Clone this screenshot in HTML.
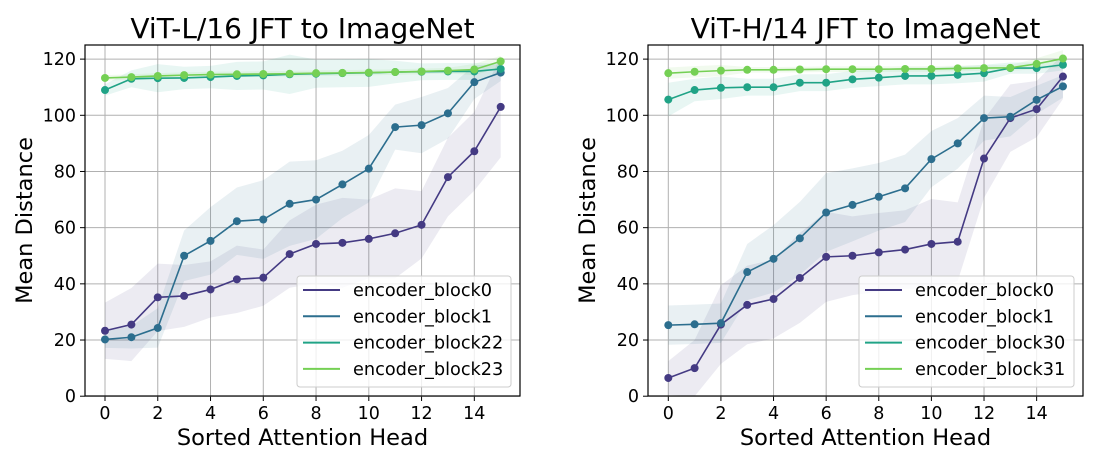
<!DOCTYPE html>
<html><head><meta charset="utf-8">
<style>
html,body{margin:0;padding:0;background:#fff;}
svg{display:block;font-family:"DejaVu Sans","Liberation Sans",sans-serif;}
</style></head>
<body>
<svg id="chart" width="1107" height="462" viewBox="0 0 1107 462" xmlns="http://www.w3.org/2000/svg"></svg>
<script>
const heads = [0,1,2,3,4,5,6,7,8,9,10,11,12,13,14,15];
const xTicks = [0,2,4,6,8,10,12,14];
const yTicks = [0,20,40,60,80,100,120];
const colors = ["#443a83","#2c6e8e","#20a386","#75d054"];

const leftTitle = "ViT-L/16 JFT to ImageNet";
const leftNames = ["encoder_block0","encoder_block1","encoder_block22","encoder_block23"];
const leftB0 = [23.3,25.5,35.2,35.7,38,41.6,42.2,50.6,54.2,54.6,56,58,61,78,87.2,103];
const leftB1 = [20.2,21,24.3,50,55.3,62.3,62.9,68.5,70,75.4,81,95.8,96.5,100.7,111.8,115.2];
const leftB22 = [109,113,113.2,113.3,113.6,114,114.2,114.6,114.8,115,115.1,115.4,115.5,115.6,115.6,116.5];
const leftB23 = [113.3,113.6,114,114.3,114.5,114.6,114.7,114.8,115,115.1,115.2,115.4,115.6,115.9,116.3,119.2];
const leftSd0 = [10,13,12,11,10,12,10,12,14,16,14,16,12,14,14,18];
const leftSd1 = [3,4,7,9,12,12,14,15,14,12,12,8,10,9,6,3];
const leftSd22 = [2,3,5,4,4,5,5,7,5,5,5,4,3,3,3,2];
const leftSd23 = [1,1,1,1,1,1,1,1,1,1,1,1,1,1,2,2];

const rightTitle = "ViT-H/14 JFT to ImageNet";
const rightNames = ["encoder_block0","encoder_block1","encoder_block30","encoder_block31"];
const rightB0 = [6.5,10,25.5,32.5,34.6,42.1,49.6,50,51.2,52.2,54.2,55,84.6,99,102.2,113.8];
const rightB1 = [25.3,25.6,26,44.2,48.9,56.2,65.4,68.1,71,74,84.4,90,99,99.5,105.5,110.3];
const rightB30 = [105.6,109,109.8,110,110,111.6,111.6,112.8,113.4,114,114,114.4,115,116.8,116.8,118];
const rightB31 = [115,115.5,115.9,116.2,116.2,116.3,116.4,116.4,116.4,116.5,116.5,116.7,116.8,116.9,118.3,120.2];
const rightSd0 = [6,10,14,14,14,16,16,14,14,14,16,14,14,12,10,8];
const rightSd1 = [7,7,7,10,12,13,14,13,12,12,10,9,8,7,5,4];
const rightSd30 = [6,4,4,3,3,3,3,3,3,3,3,3,3,2,2,2];
const rightSd31 = [2,2,2,1,1,1,1,1,1,1,1,1,1,1,2,3];

const svg = document.getElementById('chart');
const NS = "http://www.w3.org/2000/svg";
function mk(tag, attrs, parent){
  const e = document.createElementNS(NS, tag);
  for (const k in attrs) e.setAttribute(k, attrs[k]);
  (parent||svg).appendChild(e);
  return e;
}

function panel(id, L, R, T, B, x0, xUnit, title, names, series, sds, legX){
  const g = mk('g', {});
  
  
  const y0 = 396.2, yUnit = 2.809;
  const X = v => x0 + v * xUnit;
  const Y = v => y0 - v * yUnit;
  xTicks.forEach(t => {
    const l = mk('line', {x1:X(t), x2:X(t), y1:T, y2:B, stroke:"#b0b0b0", "stroke-width":1}, g);
    
    
    mk('line', {x1:X(t), x2:X(t), y1:B, y2:B+5, stroke:"#000", "stroke-width":1}, g);
    const tx = mk('text', {x:X(t), y:B+23, "text-anchor":"middle", "font-size":17.5}, g);
    tx.textContent = t;
    
    
  });
  yTicks.forEach(t => {
    const l = mk('line', {x1:L, x2:R, y1:Y(t), y2:Y(t), stroke:"#b0b0b0", "stroke-width":1}, g);
    
    
    mk('line', {x1:L-5, x2:L, y1:Y(t), y2:Y(t), stroke:"#000", "stroke-width":1}, g);
    const tx = mk('text', {x:L-9, y:Y(t)+6, "text-anchor":"end", "font-size":17.5}, g);
    tx.textContent = t;
    
    
  });
  series.forEach((s, i) => {
    const sd = sds[i];
    let d = heads.map((h, j) => (j ? 'L' : 'M') + X(h) + ',' + Y(s[j] + sd[j])).join(' ');
    for (let j = heads.length - 1; j >= 0; j--) d += ' L' + X(heads[j]) + ',' + Y(Math.max(s[j] - sd[j], -1));
    const p = mk('path', {d: d + ' Z', fill: colors[i], "fill-opacity": 0.1, stroke: "none"}, g);
    
    
  });
  series.forEach((s, i) => {
    const pts = heads.map((h, j) => X(h) + ',' + Y(s[j])).join(' ');
    const pl = mk('polyline', {points: pts, fill: "none", stroke: colors[i], "stroke-width": 1.6}, g);
    
    
    heads.forEach((h, j) => {
      const c = mk('circle', {cx: X(h), cy: Y(s[j]), r: 4, fill: colors[i]}, g);
      
      
    });
  });
  const fr = mk('rect', {x:L, y:T, width:R-L, height:B-T, fill:"none", stroke:"#000", "stroke-width":1.2}, g);
  
  
  const tt = mk('text', {x:(L+R)/2, y:38, "text-anchor":"middle", "font-size":28}, g);
  tt.textContent = title;
  
  
  const xl = mk('text', {x:(L+R)/2, y:445, "text-anchor":"middle", "font-size":22.5}, g);
  xl.textContent = "Sorted Attention Head";
  
  
  const yl = mk('text', {x:0, y:0, "text-anchor":"middle", "font-size":22.5, transform:`translate(${L-53},${(T+B)/2}) rotate(-90)`}, g);
  yl.textContent = "Mean Distance";
  
  
  const lg = mk('g', {}, g);
  
  
  mk('rect', {x:legX, y:276, width:R-9-legX, height:111, rx:3, fill:"#fff", "fill-opacity":0.8, stroke:"#ccc"}, lg);
  names.forEach((n, i) => {
    const yy = 290 + i * 26.3;
    const ln = mk('line', {x1:legX+6, x2:legX+43, y1:yy, y2:yy, stroke:colors[i], "stroke-width":2}, lg);
    
    
    const tx = mk('text', {x:legX+56, y:yy+6, "font-size":17.7}, lg);
    tx.textContent = n;
    
    
  });
}

panel('left', 85, 520, 45, 396, 105, 26.38, leftTitle, leftNames,
  [leftB0, leftB1, leftB22, leftB23], [leftSd0, leftSd1, leftSd22, leftSd23], 297);
panel('right', 648, 1083, 45, 396, 668.3, 26.31, rightTitle, rightNames,
  [rightB0, rightB1, rightB30, rightB31], [rightSd0, rightSd1, rightSd30, rightSd31], 859);
</script>
</body></html>
